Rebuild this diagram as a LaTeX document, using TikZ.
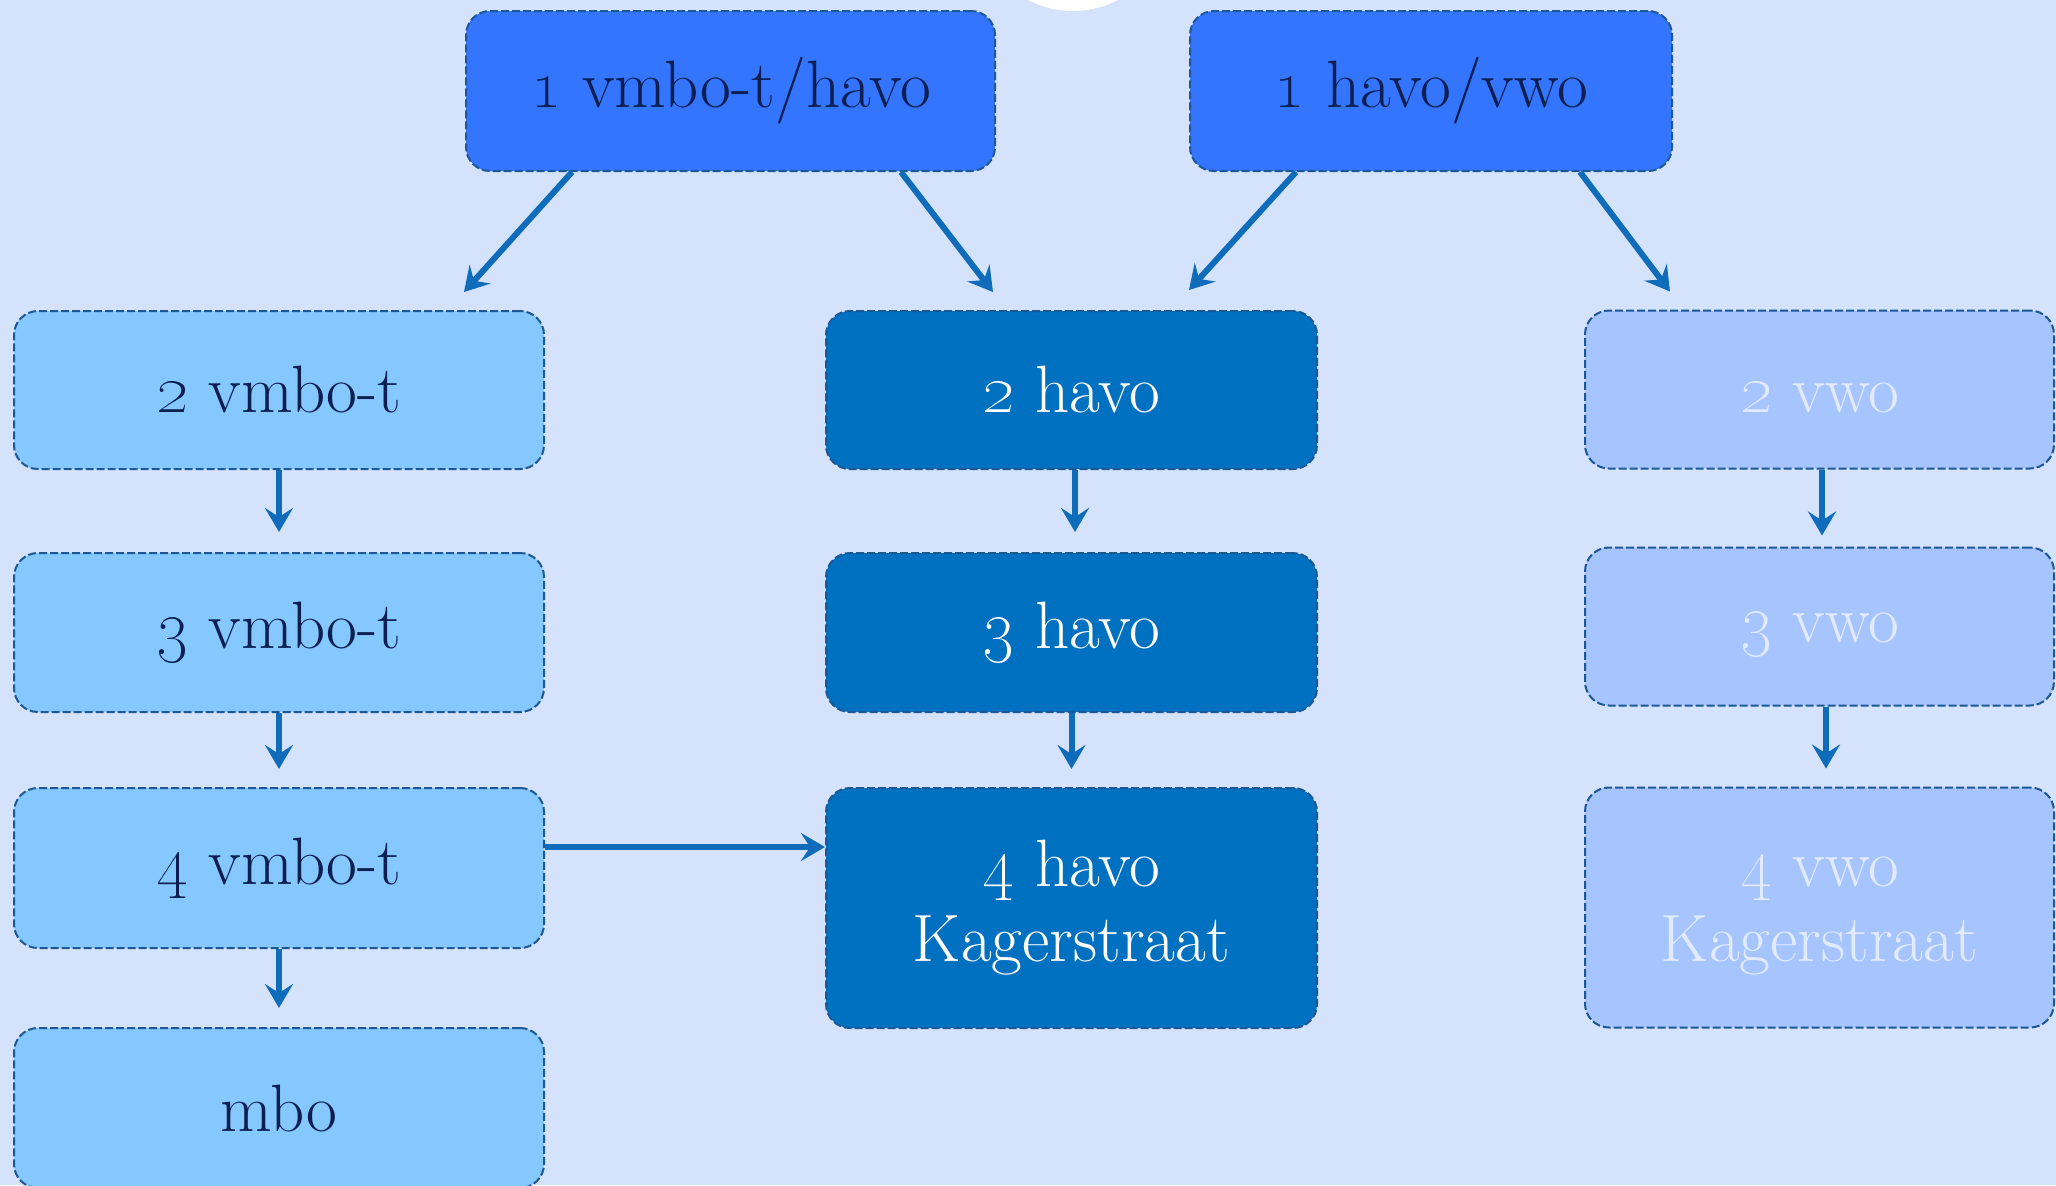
\documentclass[tikz,border=0pt]{standalone}
\usetikzlibrary{arrows.meta,calc}
\definecolor{bg}{RGB}{213,226,252}
\definecolor{topc}{RGB}{51,117,255}
\definecolor{leftc}{RGB}{132,200,255}
\definecolor{midc}{RGB}{0,112,192}
\definecolor{rightc}{RGB}{166,196,254}
\definecolor{bordc}{RGB}{28,88,150}
\definecolor{arrc}{RGB}{14,108,186}
\definecolor{navy}{RGB}{12,31,80}
\definecolor{paletxt}{RGB}{225,234,255}
\tikzset{
  box/.style={draw=bordc, line width=1pt, dash pattern=on 4pt off 1.5pt,
    rounded corners=12pt, align=center, inner sep=0pt,
    font=\fontsize{33.5}{37.5}\selectfont},
  topbox/.style={box, fill=topc, text=navy, minimum height=80pt},
  leftbox/.style={box, fill=leftc, text=navy, minimum width=265pt},
  midbox/.style={box, fill=midc, text=white, minimum width=245.5pt},
  rightbox/.style={box, fill=rightc, text=paletxt, minimum width=234.5pt},
  arr/.style={draw=arrc, line width=3pt,
    -{Stealth[length=12pt,width=14pt,inset=4.5pt]}}
}
\begin{document}
\begin{tikzpicture}[x=0.5pt,y=-0.5pt]
\useasboundingbox (0,0) rectangle (2056,1185);
\fill[bg] (0,0) rectangle (2056,1185);
\fill[white] (1073,-86) circle (97);

\node[topbox, minimum width=264.5pt] (t1) at (730.5,91) {\oldstylenums{1} vmbo-t/havo};
\node[topbox, minimum width=241pt] (t2) at (1431,91) {\oldstylenums{1} havo/vwo};

\node[leftbox, minimum height=79pt] (a2) at (279,390) {\oldstylenums{2} vmbo-t};
\node[leftbox, minimum height=79.5pt] (a3) at (279,632.5) {\oldstylenums{3} vmbo-t};
\node[leftbox, minimum height=80pt] (a4) at (279,868) {\oldstylenums{4} vmbo-t};
\node[leftbox, minimum height=80pt] (a5) at (279,1108) {mbo};

\node[midbox, minimum height=79pt] (b2) at (1071.5,390) {\oldstylenums{2} havo};
\node[midbox, minimum height=79.5pt] (b3) at (1071.5,632.5) {\oldstylenums{3} havo};
\node[midbox, minimum height=120pt] (b4) at (1071.5,908) {\oldstylenums{4} havo\\Kagerstraat};

\node[rightbox, minimum height=79pt] (c2) at (1819.5,389.5) {\vphantom{h}\oldstylenums{2} vwo};
\node[rightbox, minimum height=79pt] (c3) at (1819.5,626.5) {\vphantom{h}\oldstylenums{3} vwo};
\node[rightbox, minimum height=120pt] (c4) at (1819.5,907.5) {\vphantom{h}\oldstylenums{4} vwo\\Kagerstraat};

\draw[arr] ($(t1.south)+(-158.5,0)$) -- ($(a2.north)+(185,-18)$);
\draw[arr] ($(t1.south)+(170.5,0)$) -- ($(b2.north)+(-78.5,-18)$);
\draw[arr] ($(t2.south)+(-135,0)$) -- ($(b2.north)+(117.5,-20)$);
\draw[arr] ($(t2.south)+(149,0)$) -- ($(c2.north)+(-149.5,-18)$);

\draw[arr] (a2.south) -- ($(a3.north)+(0,-20)$);
\draw[arr] (a3.south) -- ($(a4.north)+(0,-18)$);
\draw[arr] (a4.south) -- ($(a5.north)+(0,-19)$);

\draw[arr] ($(b2.south)+(3.5,0)$) -- ($(b3.north)+(3.5,-20)$);
\draw[arr] (b3.south) -- ($(b4.north)+(0,-18)$);

\draw[arr] ($(c2.south)+(2.5,0)$) -- ($(c3.north)+(2.5,-11)$);
\draw[arr] ($(c3.south)+(6.5,0)$) -- ($(c4.north)+(6.5,-18)$);

\draw[arr] ($(a4.east)+(0,-21)$) -- ($(b4.west)+(0,-61)$);
\end{tikzpicture}
\end{document}
